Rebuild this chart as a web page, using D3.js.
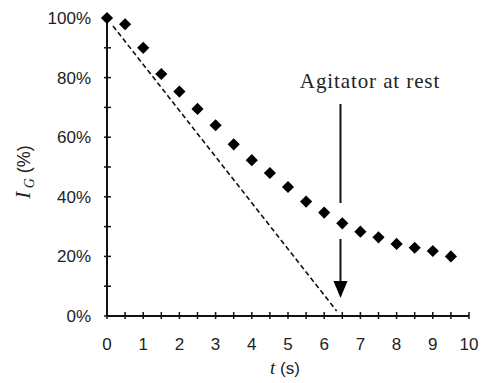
<!DOCTYPE html>
<html><head><meta charset="utf-8">
<script src="https://cdn.jsdelivr.net/npm/d3@7"></script>
<style>body{margin:0;background:#fff}svg{display:block}</style>
</head><body>
<svg id="c" width="482" height="383"></svg>
<script>
const times = [0,0.5,1,1.5,2,2.5,3,3.5,4,4.5,5,5.5,6,6.5,7,7.5,8,8.5,9,9.5];
const ig = [100,97.9,90,81.2,75.3,69.5,64,57.6,52.3,48,43.3,38.4,34.7,31.1,28.3,26.4,24.2,22.9,21.8,20];
const dashT = [0,6.4];
const dashV = [100,0];
const xTicks = [0,1,2,3,4,5,6,7,8,9,10];
const yTicks = [0,20,40,60,80,100];
const arrowT = 6.45;
const annotation = "Agitator at rest";

const svg = d3.select("#c");
const x = d3.scaleLinear().domain([0,10]).range([107,469]);
const y = d3.scaleLinear().domain([0,100]).range([316,18]);

// dashed line
svg.append("line")
  .attr("x1", x(dashT[0])+6).attr("y1", y(dashV[0])+8)
  .attr("x2", x(dashT[1])-2).attr("y2", y(dashV[1])-5)
  .attr("stroke","#111").attr("stroke-width",1.6).attr("stroke-dasharray","5,3");

// axes
const gx = svg.append("g").attr("transform",`translate(0,${y(0)})`);
gx.append("line").attr("x1",x(0)).attr("x2",x(10)).attr("stroke","#111").attr("stroke-width",2);
d3.range(0,10.01,0.5).forEach(t=>{
  gx.append("line").attr("x1",x(t)).attr("x2",x(t)).attr("y1",-4).attr("y2",3)
    .attr("stroke","#111").attr("stroke-width",1.5);
});
xTicks.forEach(t=>{
  gx.append("text").attr("x",x(t)).attr("y",34).attr("text-anchor","middle")
    .attr("font-family","Liberation Sans, Arial, sans-serif").attr("font-size",17).attr("fill","#222").text(t);
});
const gy = svg.append("g");
gy.append("line").attr("x1",x(0)).attr("x2",x(0)).attr("y1",y(0)).attr("y2",y(100)).attr("stroke","#111").attr("stroke-width",2);
d3.range(0,100.01,10).forEach(v=>{
  gy.append("line").attr("x1",x(0)-3).attr("x2",x(0)+4).attr("y1",y(v)).attr("y2",y(v))
    .attr("stroke","#111").attr("stroke-width",1.5);
});
yTicks.forEach(v=>{
  gy.append("text").attr("x",x(0)-16).attr("y",y(v)+6).attr("text-anchor","end")
    .attr("font-family","Liberation Sans, Arial, sans-serif").attr("font-size",17).attr("fill","#222").text(v+"%");
});

// points
svg.append("g").selectAll("path").data(times).join("path")
  .attr("d", d3.symbol().type(d3.symbolSquare).size(74))
  .attr("transform",(d,i)=>`translate(${x(d)},${y(ig[i])}) rotate(45)`)
  .attr("fill","#000");

// arrow
const ax = x(arrowT);
svg.append("line").attr("x1",ax).attr("x2",ax).attr("y1",104).attr("y2",203).attr("stroke","#111").attr("stroke-width",2);
svg.append("line").attr("x1",ax).attr("x2",ax).attr("y1",239).attr("y2",285).attr("stroke","#111").attr("stroke-width",2);
svg.append("path").attr("d",`M${ax-7},281 L${ax+7},281 L${ax},298 Z`).attr("fill","#000");
svg.append("text").attr("x",370).attr("y",88).attr("text-anchor","middle")
  .attr("font-family","Liberation Serif, Times New Roman, serif").attr("font-size",21)
  .attr("letter-spacing",0.9).attr("fill","#222").text(annotation);

// axis titles
const xt = svg.append("text").attr("x",285).attr("y",374).attr("text-anchor","middle")
  .attr("font-family","Liberation Sans, Arial, sans-serif").attr("font-size",17).attr("fill","#222");
xt.append("tspan").attr("font-family","Liberation Serif, serif").attr("font-style","italic").attr("font-size",19).text("t");
xt.append("tspan").text(" (s)");

const yt = svg.append("text").attr("transform","translate(30,172) rotate(-90)").attr("text-anchor","middle")
  .attr("font-family","Liberation Sans, Arial, sans-serif").attr("font-size",18).attr("fill","#222");
yt.append("tspan").attr("font-family","Liberation Serif, serif").attr("font-style","italic").attr("font-size",21).text("I");
yt.append("tspan").attr("font-family","Liberation Serif, serif").attr("font-style","italic").attr("font-size",14).attr("dy",4).text(" G");
yt.append("tspan").attr("dy",-4).text(" (%)");
</script>
</body></html>
